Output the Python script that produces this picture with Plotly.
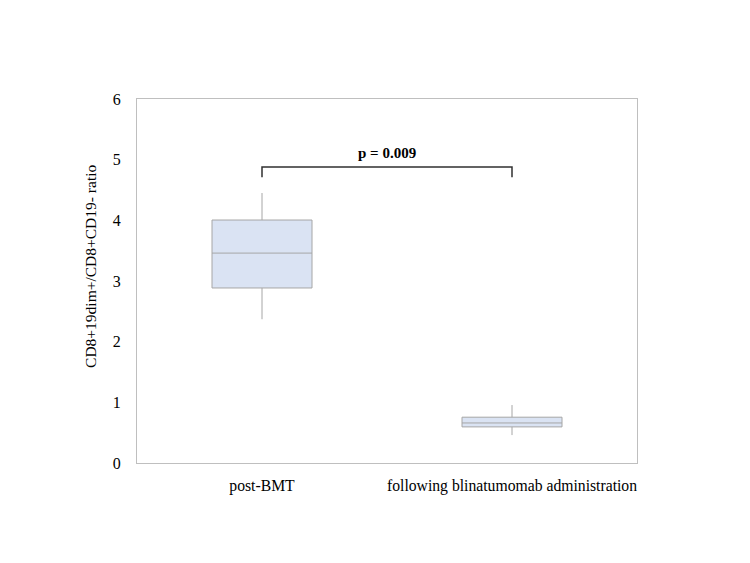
import plotly.graph_objects as go

categories = ["post-BMT", "following blinatumomab administration"]
q1 = [2.885, 0.595]
median = [3.46, 0.66]
q3 = [4.005, 0.755]
lower_fence = [2.37, 0.46]
upper_fence = [4.45, 0.955]
p_text = "p = 0.009"
bracket_y = 4.88
bracket_drop = 4.71
y_ticks = [0, 1, 2, 3, 4, 5, 6]
y_title = "CD8+19dim+/CD8+CD19- ratio"

FONT = "Liberation Serif, Times New Roman, serif"

fig = go.Figure()
fig.add_trace(go.Box(
    x=categories, q1=q1, median=median, q3=q3,
    lowerfence=lower_fence, upperfence=upper_fence,
    fillcolor="#dae3f3", line=dict(color="#a6a6a6", width=1),
    whiskerwidth=0, width=0.4, boxpoints=False, showlegend=False,
    hoverinfo="skip",
))

# significance bracket
fig.add_trace(go.Scatter(
    x=[categories[0], categories[0], categories[1], categories[1]],
    y=[bracket_drop, bracket_y, bracket_y, bracket_drop],
    mode="lines", line=dict(color="#303030", width=1.5),
    showlegend=False, hoverinfo="skip",
))
fig.add_annotation(
    x=0.5, y=bracket_y, xref="x", yref="y", text="<b>" + p_text + "</b>",
    showarrow=False, yshift=14, font=dict(family=FONT, size=15, color="black"),
)
fig.add_annotation(
    x=0, xref="paper", xshift=-57, y=0.54, yref="paper", text=y_title,
    textangle=-90, showarrow=False, font=dict(family=FONT, size=15.5, color="black"),
)

fig.update_layout(
    width=750, height=563,
    margin=dict(l=137, r=113, t=99, b=100),
    paper_bgcolor="white", plot_bgcolor="white",
    font=dict(family=FONT, size=15, color="black"),
    xaxis=dict(
        type="category", range=[-0.5, 1.5], showgrid=False,
        showline=True, mirror=True, linecolor="#bfbfbf", linewidth=1,
        ticks="", ticklabelstandoff=8, tickfont=dict(size=15.7),
    ),
    yaxis=dict(
        range=[0, 6], tickvals=y_ticks, showgrid=False, zeroline=False,
        showline=True, mirror=True, linecolor="#bfbfbf", linewidth=1,
        ticks="", ticklabelstandoff=12, tickfont=dict(size=16),
    ),
)

fig.write_html("out.html")
